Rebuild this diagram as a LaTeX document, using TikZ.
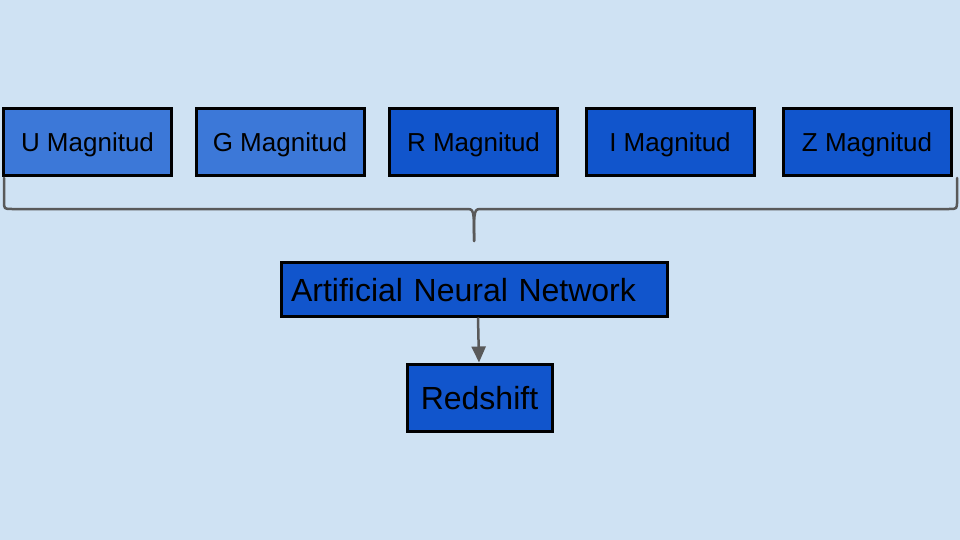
\documentclass[tikz,border=0pt]{standalone}
\usepackage{fontspec}
\setmainfont{Liberation Sans}
\usetikzlibrary{arrows.meta}
\definecolor{bgc}{HTML}{CFE2F3}
\definecolor{lightb}{HTML}{3C78D8}
\definecolor{darkb}{HTML}{1155CC}
\definecolor{lineg}{HTML}{595959}
\tikzset{
  magbox/.style={draw=black, line width=3pt, minimum width=168pt, minimum height=67pt, inner sep=0pt, text depth=0pt, font=\fontsize{26}{30}\selectfont, text=black},
  bigbox/.style={draw=black, line width=3pt, inner sep=0pt, text depth=0pt, font=\fontsize{32}{38}\selectfont, text=black, fill=darkb},
  conn/.style={draw=lineg, line width=2.5pt, line cap=round, line join=round}
}
\begin{document}
\begin{tikzpicture}[x=1pt,y=-1pt]
\fill[bgc] (0,0) rectangle (960,540);
\useasboundingbox (0,0) rectangle (960,540);
\node[magbox, fill=lightb] (u) at (87.5,142.5) {U Magnitud};
\node[magbox, fill=lightb] (g) at (280,142.5) {G Magnitud};
\node[magbox, fill=darkb] (r) at (473.5,142.5) {R Magnitud};
\node[magbox, fill=darkb] (i) at (670,142.5) {I Magnitud};
\node[magbox, fill=darkb] (z) at (867,142.5) {Z Magnitud};
\node[bigbox, minimum width=386pt, minimum height=54pt, text width=366pt, align=left, inner xsep=10pt] (ann) at (474,289) {\raisebox{-2pt}{Artificial Neural Network}};
\node[bigbox, minimum width=145pt, minimum height=67pt] (red) at (479.5,397.5) {Redshift};
\coordinate (bl) at (4,178);
\coordinate (br) at (957,178);
\coordinate (tip) at (474,241);
\draw[conn] (bl) -- (4,201) .. controls (4,209) .. (12,209) -- (466,209) .. controls (474,209) .. (tip);
\draw[conn] (br) -- (957,201) .. controls (957,209) .. (949,209) -- (482,209) .. controls (474,209) .. (tip);
\draw[conn, -{Triangle[length=16pt,width=14pt]}, line cap=butt] (ann.south -| 478,0) -- (red.north -| 479,0);
\end{tikzpicture}
\end{document}
